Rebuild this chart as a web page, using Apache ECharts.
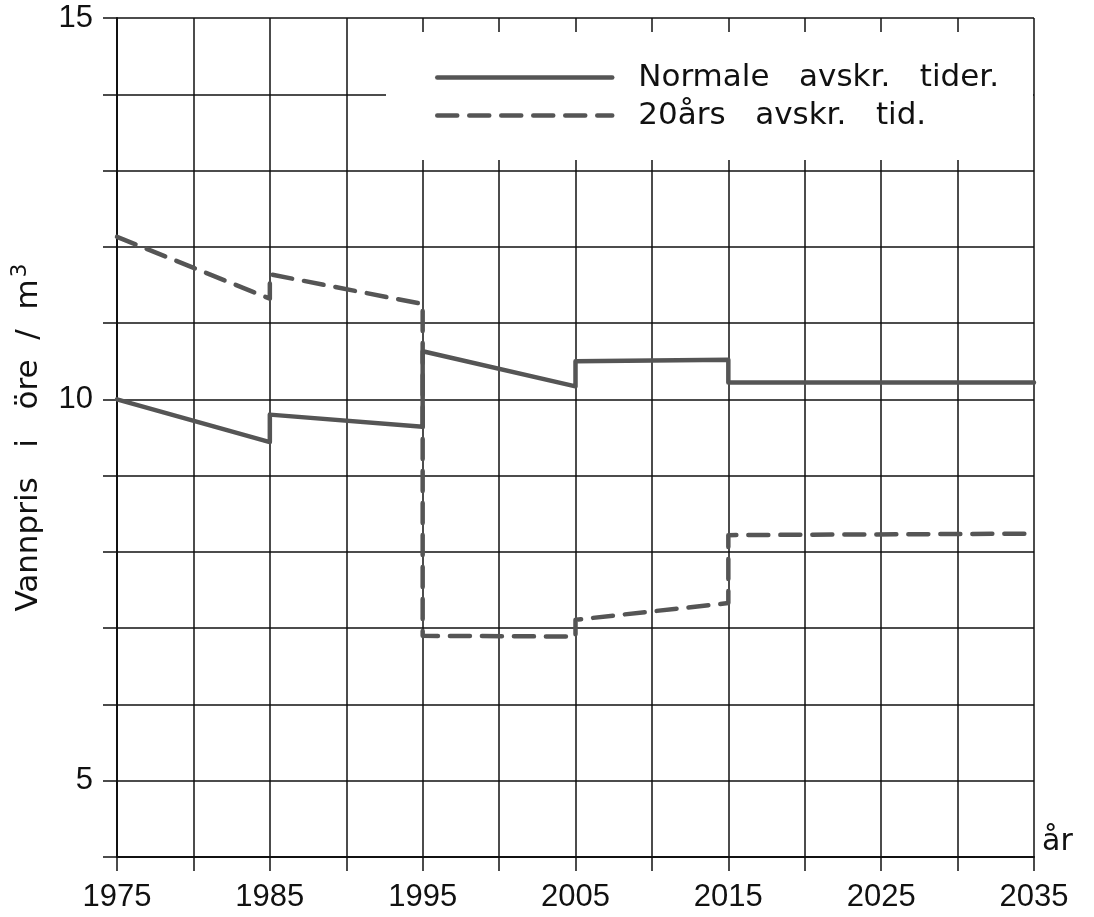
<!DOCTYPE html>
<html>
<head>
<meta charset="utf-8">
<script src="https://cdn.jsdelivr.net/npm/echarts@6/dist/echarts.min.js"></script>
<style>
    html, body { margin: 0; padding: 0; background: #fff; }
    #chart { width: 1094px; height: 917px; }
</style>
</head>
<body>
<div id="chart"></div>
<script>
    // step lines: each jump is a repeated year
    let years = [1975, 1985, 1985, 1995, 1995, 2005, 2005, 2015, 2015, 2035]
    let normale = [10.0, 9.44, 9.8, 9.64, 10.63, 10.17, 10.5, 10.52, 10.22, 10.22]
    let tjueAar = [12.13, 11.32, 11.64, 11.25, 6.9, 6.89, 7.11, 7.33, 8.22, 8.24]
    let legend_data = ['Normale   avskr.   tider.', '20års   avskr.   tid.']

    let numFont = "'Liberation Sans Narrow', 'Liberation Sans', sans-serif"
    let textFont = "'DejaVu Sans', sans-serif"
    let ink = '#111'
    let lineColor = '#555'

    let myChart = echarts.init(document.getElementById('chart'))
    myChart.setOption({
        animation: false,
        backgroundColor: '#fff',
        grid: {
            left: 117,
            right: 60,
            top: 18,
            bottom: 60
        },
        legend: {
            orient: 'vertical',
            left: 430,
            top: 57,
            itemWidth: 175,
            itemHeight: 16,
            itemGap: 7,
            data: legend_data,
            itemStyle: { opacity: 0 },
            lineStyle: { width: 4.5 },
            textStyle: {
                color: ink,
                fontFamily: textFont,
                fontSize: 31,
                padding: [0, 0, 0, 21]
            }
        },
        graphic: [{
            // blank box behind the legend, interrupts the grid
            type: 'rect',
            z: 1,
            shape: { x: 386, y: 32, width: 647, height: 128 },
            style: { fill: '#fff' }
        }],
        xAxis: {
            type: 'value',
            min: 1975,
            max: 2035,
            interval: 5,
            name: 'år',
            nameLocation: 'end',
            nameGap: 8,
            nameTextStyle: {
                color: ink,
                fontFamily: textFont,
                fontSize: 30,
                verticalAlign: 'bottom'
            },
            axisLine: { show: true, onZero: false, lineStyle: { color: ink, width: 2 } },
            axisTick: { show: true, length: 14, lineStyle: { color: ink, width: 1.5 } },
            splitLine: { show: true, lineStyle: { color: ink, width: 1.5 } },
            axisLabel: {
                color: ink,
                fontFamily: numFont,
                fontSize: 31,
                margin: 25,
                formatter: function (v) {
                    return (v - 1975) % 10 === 0 ? String(v) : ''
                }
            }
        },
        yAxis: {
            type: 'value',
            min: 4,
            max: 15,
            interval: 1,
            name: 'Vannpris   i   öre  /  m{s|3}',
            nameLocation: 'middle',
            nameGap: 68,
            nameTextStyle: {
                color: ink,
                fontFamily: textFont,
                fontSize: 31,
                rich: {
                    s: {
                        fontFamily: textFont,
                        fontSize: 22,
                        color: ink,
                        verticalAlign: 'top',
                        padding: [0, 0, 18, 2]
                    }
                }
            },
            axisLine: { show: true, lineStyle: { color: ink, width: 2 } },
            axisTick: { show: true, length: 14, lineStyle: { color: ink, width: 1.5 } },
            splitLine: { show: true, lineStyle: { color: ink, width: 1.5 } },
            axisLabel: {
                color: ink,
                fontFamily: numFont,
                fontSize: 31,
                margin: 24,
                formatter: function (v) {
                    return v % 5 === 0 ? String(v) : ''
                }
            }
        },
        series: legend_data.map((val, i) => {
            let vals = [normale, tjueAar][i]
            return {
                name: val,
                type: 'line',
                symbol: 'none',
                z: 3,
                lineStyle: {
                    color: lineColor,
                    width: 4.5,
                    type: i === 0 ? 'solid' : [20, 12],
                    cap: 'round',
                    join: 'round'
                },
                itemStyle: { color: lineColor },
                data: years.map((y, k) => [y, vals[k]])
            }
        })
    })
</script>
</body>
</html>
